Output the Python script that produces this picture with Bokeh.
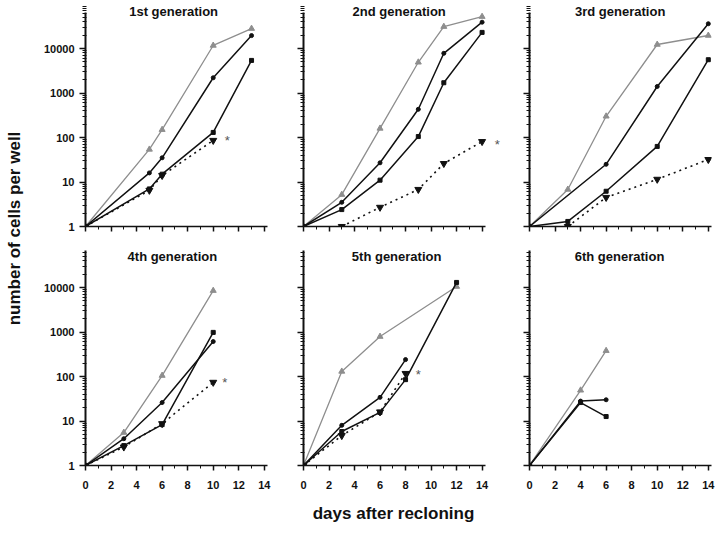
import math
from bokeh.plotting import figure
from bokeh.layouts import row, column
from bokeh.models import FixedTicker, Label, Range1d, PrintfTickFormatter
from bokeh.embed import file_html
from bokeh.resources import INLINE
from bokeh.core.properties import value

# ---------------- data ----------------
titles = ["1st generation", "2nd generation", "3rd generation",
          "4th generation", "5th generation", "6th generation"]

# grey line with grey triangles
gray_days = [[0, 5, 6, 10, 13], [0, 3, 6, 9, 11, 14], [0, 3, 6, 10, 14],
             [0, 3, 6, 10], [0, 3, 6, 12], [0, 4, 6]]
gray_vals = [[1, 54, 150, 11700, 28000], [1, 5.2, 160, 4900, 31000, 52000],
             [1, 6.8, 300, 12300, 19600], [1, 5.5, 105, 8500],
             [1, 130, 790, 10500], [1, 49, 380]]

# black line with small dots
up_days = [[0, 5, 6, 10, 13], [0, 3, 6, 9, 11, 14], [0, 6, 10, 14],
           [0, 3, 6, 10], [0, 3, 6, 8], [0, 4, 6]]
up_vals = [[1, 16, 35, 2200, 19500], [1, 3.5, 27, 430, 7800, 39000],
           [1, 25, 1400, 36000], [1, 4, 26, 610], [1, 8, 34, 240], [1, 28, 30]]

# black line with small squares
low_days = [[0, 5, 6, 10, 13], [0, 3, 6, 9, 11, 14], [0, 3, 6, 10, 14],
            [0, 3, 6, 10], [0, 3, 6, 8, 12], [0, 4, 6]]
low_vals = [[1, 7, 15, 130, 5400], [1, 2.4, 11, 105, 1700, 23000],
            [1, 1.3, 6.2, 63, 5600], [1, 2.8, 8.3, 980],
            [1, 5.8, 15.6, 85, 13000], [1, 26, 12.6]]

# dotted line with inverted triangles
dot_days = [[0, 5, 6, 10], [3, 6, 9, 11, 14], [3, 6, 10, 14],
            [0, 3, 6, 10], [0, 3, 6, 8], []]
dot_vals = [[1, 6.5, 14, 86], [1, 2.7, 6.8, 26, 81], [1, 4.5, 11.5, 32],
            [1, 2.6, 8.7, 74], [1, 4.7, 16, 117], []]

# asterisks
star_panel = [0, 1, 3, 4]
star_x = [11.1, 15.2, 10.9, 9.0]
star_y = [100, 81, 86, 130]

x_major = [0, 2, 4, 6, 8, 10, 12, 14]
x_minor = [1, 3, 5, 7, 9, 11, 13]
y_major = [1, 10, 100, 1000, 10000]

y_title = "number of cells per well"
x_title = "days after recloning"

# ---------------- styling / layout ----------------
FONT = "Liberation Sans"
GRAY = "#8e8e8e"
INK = "#111111"
DEC = 44.5                 # pixels per decade
PX_DAY = 182 / 14.25       # pixels per day
AXIS_END = 14.25
# fh: frame height, ah: height of the drawn axis, tb/bb: borders
ROWS = [dict(fh=222, ah=214, tb=4, bb=14, tlog=4.83),
        dict(fh=215, ah=215, tb=10, bb=35, tlog=4.70)]
# left border, x-range end, right border
COLS = [(47, 14.25, 8), (28, 15.6, 2), (25, 14.25, 5)]
YLAB_W = 38
title_x = [6.9, 7.5, 7.1, 6.8, 7.3, 7.05]

y_minor = [k * 10 ** d for d in range(0, 5) for k in range(2, 10)]


def make_panel(i):
    r, c = divmod(i, 3)
    lb, xmax, rb = COLS[c]
    fw = int(round(PX_DAY * xmax))
    R = ROWS[r]
    ytop = 10 ** (R["fh"] / DEC)
    p = figure(width=lb + fw + rb, height=R["tb"] + R["fh"] + R["bb"],
               x_range=Range1d(0, xmax), y_range=Range1d(1, ytop),
               y_axis_type="log", output_backend="svg", toolbar_location=None,
               min_border_left=lb, min_border_right=rb,
               min_border_top=R["tb"], min_border_bottom=R["bb"])
    p.outline_line_color = None
    p.grid.visible = False
    p.background_fill_color = "white"
    p.border_fill_color = "white"

    xa = p.xaxis[0]
    xa.bounds = (0, AXIS_END)
    xa.ticker = FixedTicker(ticks=x_major, minor_ticks=x_minor)
    xa.axis_line_width = 1.5
    xa.axis_line_color = INK
    xa.major_tick_in = 0
    xa.major_tick_out = 5
    xa.minor_tick_in = 0
    xa.minor_tick_out = 3
    xa.major_tick_line_color = INK
    xa.minor_tick_line_color = INK
    xa.major_tick_line_width = 1.5
    xa.major_label_text_font = FONT
    xa.major_label_text_font_style = "bold"
    xa.major_label_text_font_size = "11px"
    xa.major_label_text_color = INK
    xa.major_label_standoff = 10
    if r == 0:
        xa.major_label_overrides = {t: "" for t in x_major}

    ya = p.yaxis[0]
    ya.bounds = (1, 10 ** (R["ah"] / DEC))
    ya.ticker = FixedTicker(ticks=y_major, minor_ticks=y_minor)
    ya.formatter = PrintfTickFormatter(format="%d")
    ya.axis_line_width = 2
    ya.axis_line_color = INK
    ya.major_tick_in = 0
    ya.major_tick_out = 6
    ya.minor_tick_in = 1
    ya.minor_tick_out = 3
    ya.major_tick_line_color = INK
    ya.minor_tick_line_color = INK
    ya.major_tick_line_width = 1.5
    ya.major_label_text_font = FONT
    ya.major_label_text_font_style = "bold"
    ya.major_label_text_font_size = "11px"
    ya.major_label_text_color = INK
    ya.major_label_standoff = 5
    if c != 0:
        ya.major_label_overrides = {t: "" for t in y_major}

    # series
    p.line(gray_days[i], gray_vals[i], line_color=GRAY, line_width=1.3)
    p.scatter(gray_days[i][1:], gray_vals[i][1:], marker="triangle", size=6,
              fill_color=GRAY, line_color=GRAY)
    p.line(up_days[i], up_vals[i], line_color=INK, line_width=1.5)
    p.scatter(up_days[i][1:], up_vals[i][1:], marker="circle", size=4,
              fill_color=INK, line_color=INK)
    p.line(low_days[i], low_vals[i], line_color=INK, line_width=1.5)
    p.scatter(low_days[i][1:], low_vals[i][1:], marker="square", size=4,
              fill_color=INK, line_color=INK)
    if dot_days[i]:
        p.line(dot_days[i], dot_vals[i], line_color=INK, line_width=1.6,
               line_dash="2 4")
        p.scatter(dot_days[i], dot_vals[i], marker="inverted_triangle", size=7,
                  fill_color=INK, line_color=INK)
    p.scatter([0], [1], marker="circle", size=5, fill_color=INK, line_color=INK)

    for k, pi in enumerate(star_panel):
        if pi == i:
            p.add_layout(Label(x=star_x[k], y=star_y[k], text="*",
                               text_font=FONT, text_font_size="13px",
                               text_color="#555555", text_align="center",
                               text_baseline="middle", y_offset=-3))

    p.add_layout(Label(x=title_x[i], y=10 ** R["tlog"], text=titles[i],
                       text_font=FONT, text_font_style="bold",
                       text_font_size="13px", text_color=INK,
                       text_align="center", text_baseline="middle"))
    return p


panels = [make_panel(i) for i in range(6)]

grid_h = sum(R["tb"] + R["fh"] + R["bb"] for R in ROWS)
ylab = figure(width=YLAB_W, height=grid_h, x_range=Range1d(0, YLAB_W),
              y_range=Range1d(0, grid_h), output_backend="svg",
              toolbar_location=None, min_border=0)
ylab.axis.visible = False
ylab.grid.visible = False
ylab.outline_line_color = None
ylab.add_layout(Label(x=14, y=grid_h - 228, text=y_title, angle=math.pi / 2,
                      text_font=FONT, text_font_style="bold",
                      text_font_size="17px", text_color=INK,
                      text_align="center", text_baseline="middle"))

total_w = YLAB_W + sum(lb + int(round(PX_DAY * xm)) + rb for lb, xm, rb in COLS)
xlab = figure(width=total_w, height=30, x_range=Range1d(0, total_w),
              y_range=Range1d(0, 30), output_backend="svg",
              toolbar_location=None, min_border=0)
xlab.axis.visible = False
xlab.grid.visible = False
xlab.outline_line_color = None
xlab.add_layout(Label(x=393, y=17, text=x_title,
                      text_font=FONT, text_font_style="bold",
                      text_font_size="17px", text_color=INK,
                      text_align="center", text_baseline="middle"))

layout = column(
    row(ylab, column(row(*panels[:3]), row(*panels[3:]))),
    xlab,
)

open("out.html", "w").write(file_html(layout, INLINE))
